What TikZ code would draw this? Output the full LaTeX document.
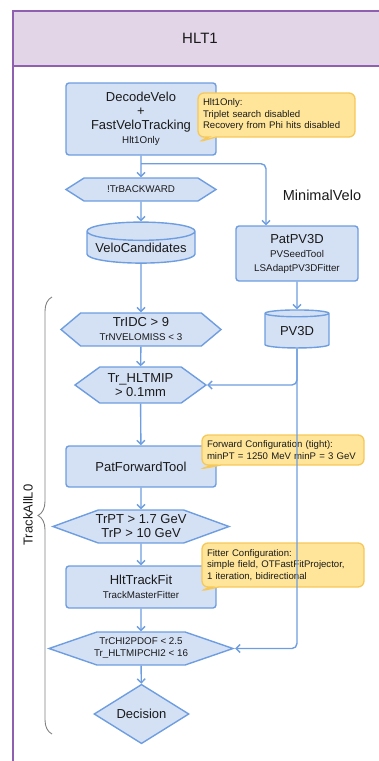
\documentclass[tikz,border=0pt]{standalone}
\usepackage{fontspec}
\setmainfont{Liberation Sans}
\usetikzlibrary{arrows.meta,shapes.geometric,shapes.symbols,shapes.callouts,decorations.pathreplacing}

\definecolor{hdrfill}{HTML}{E1D5E7}
\definecolor{hdrline}{HTML}{9060B0}
\definecolor{boxfill}{HTML}{D4E1F5}
\definecolor{boxline}{HTML}{6E9DE0}
\definecolor{notefill}{HTML}{FFE599}
\definecolor{noteline}{HTML}{F6C85A}
\definecolor{txt}{HTML}{1A1A1A}

\newcommand{\mainf}{\fontsize{13}{14}\selectfont}
\newcommand{\subf}{\fontsize{9.8}{12}\selectfont}
\newcommand{\notef}{\fontsize{9.6}{11.5}\selectfont}

\tikzset{
  box/.style={draw=boxline, fill=boxfill, line width=1.4pt, rounded corners=3pt,
    align=center, text=txt, font=\mainf, inner sep=0pt},
  hexa/.style={signal, signal to=west and east, draw=boxline, fill=boxfill,
    line width=1.4pt, align=center, text=txt, font=\mainf, inner sep=0pt},
  store/.style={cylinder, shape border rotate=90, aspect=0.2, draw=boxline,
    fill=boxfill, line width=1.4pt, text=txt, font=\mainf, inner sep=0pt},
  note/.style={rectangle callout, rounded corners=6pt, draw=noteline, fill=notefill,
    line width=1.3pt, align=left, text=txt, font=\notef, inner xsep=5pt, inner ysep=0pt},
  flow/.style={draw=boxline, line width=1.4pt, rounded corners=5pt,
    -{Straight Barb[length=4pt,width=8pt]}},
}

\begin{document}
\begin{tikzpicture}[x=1pt, y=-1pt]
    \useasboundingbox (0,0) rectangle (379,761);
    % frame
    \fill[hdrfill] (13,11) rectangle (382,66);
    \draw[hdrline, line width=1.3pt] (382,11) -- (13,11) -- (13,765);
    \draw[hdrline, line width=1.3pt] (13,66) -- (382,66);
    \node[text=txt, font=\fontsize{15}{18}\selectfont] (hlt) at (200,38) {HLT1};

    % velo part
    \node[box, minimum width=150pt, minimum height=72pt] (dv) at (141,119)
        {DecodeVelo\\+\\FastVeloTracking\\{\subf Hlt1Only}};
    \node[note, text width=147pt, minimum height=44pt, callout absolute pointer={(198,142)}] (n1) at (276.5,115)
        {Hlt1Only:\\Triplet search disabled\\Recovery from Phi hits disabled};
    \node[hexa, font=\subf, minimum width=150pt, minimum height=23pt, signal pointer angle=65] (bw) at (141,189.5) {!TrBACKWARD};
    \node[text=txt, font=\fontsize{14.5}{16}\selectfont] (mv) at (322,195) {MinimalVelo};
    \node[store, minimum width=108pt, minimum height=41pt] (vc) at (141,247.5) {VeloCandidates};
    \node[box, minimum width=122pt, minimum height=55pt] (pv) at (297,253.5)
        {PatPV3D\\{\subf PVSeedTool}\\{\subf LSAdaptPV3DFitter}};
    \node[store, minimum width=64pt, minimum height=38pt] (pvd) at (297,331) {PV3D};

    % track part
    \node[hexa, minimum width=160pt, minimum height=33pt, signal pointer angle=80] (idc) at (141,329.5)
        {TrIDC > 9\\{\subf TrNVELOMISS < 3}};
    \node[hexa, minimum width=131pt, minimum height=36pt, signal pointer angle=72] (mip) at (140.5,385)
        {Tr\_HLTMIP\\> 0.1mm};
    \node[box, minimum width=150pt, minimum height=41pt] (fwd) at (141,466.5) {PatForwardTool};
    \node[note, text width=152pt, minimum height=30pt, callout absolute pointer={(200,469)}] (n2) at (283,450)
        {Forward Configuration (tight):\\minPT = 1250 MeV minP = 3 GeV};
    \node[hexa, inner xsep=-9pt, minimum width=176pt, minimum height=33pt, signal pointer angle=40] (pt) at (141,526.5)
        {TrPT > 1.7 GeV\\TrP > 10 GeV};
    \node[box, minimum width=150pt, minimum height=42pt] (fit) at (141,587)
        {HltTrackFit\\{\subf TrackMasterFitter}};
    \node[note, text width=152pt, minimum height=44pt, callout absolute pointer={(200,591)}] (n3) at (283,565)
        {Fitter Configuration:\\simple field, OTFastFitProjector,\\1 iteration, bidirectional};
    \node[hexa, font=\subf, inner xsep=-9pt, minimum width=184pt, minimum height=33pt, signal pointer angle=38] (chi) at (141,648.5)
        {TrCHI2PDOF < 2.5\\Tr\_HLTMIPCHI2 < 16};
    \node[diamond, draw=boxline, fill=boxfill, line width=1.4pt, text=txt, font=\mainf, inner sep=0pt,
        minimum width=95pt, minimum height=40pt] (dec) at (141.5,714) {Decision};

    % connectors
    \draw[flow] (dv) -- (bw);
    \draw[flow] ([yshift=-8pt]dv.south) -| ([xshift=-31pt]pv.north);
    \draw[flow] (bw) -- (vc);
    \draw[flow] (vc) -- (idc);
    \draw[flow] (pv) -- (pvd);
    \draw[flow] (idc) -- (mip);
    \draw[flow] (pvd.south) |- (mip.east);
    \draw[flow] (pvd.south) |- (chi.east);
    \draw[flow] (mip) -- (fwd);
    \draw[flow] (fwd) -- (pt);
    \draw[flow] (pt) -- (fit);
    \draw[flow] (fit) -- (chi);
    \draw[flow] (chi) -- (dec);

    % bracket
    \draw[gray, line width=0.9pt, decorate, decoration={brace, amplitude=14pt}] (52,734) -- (52,297);
    \node[rotate=90, text=txt, font=\mainf] (tal) at (28,515) {TrackAllL0};
\end{tikzpicture}
\end{document}
